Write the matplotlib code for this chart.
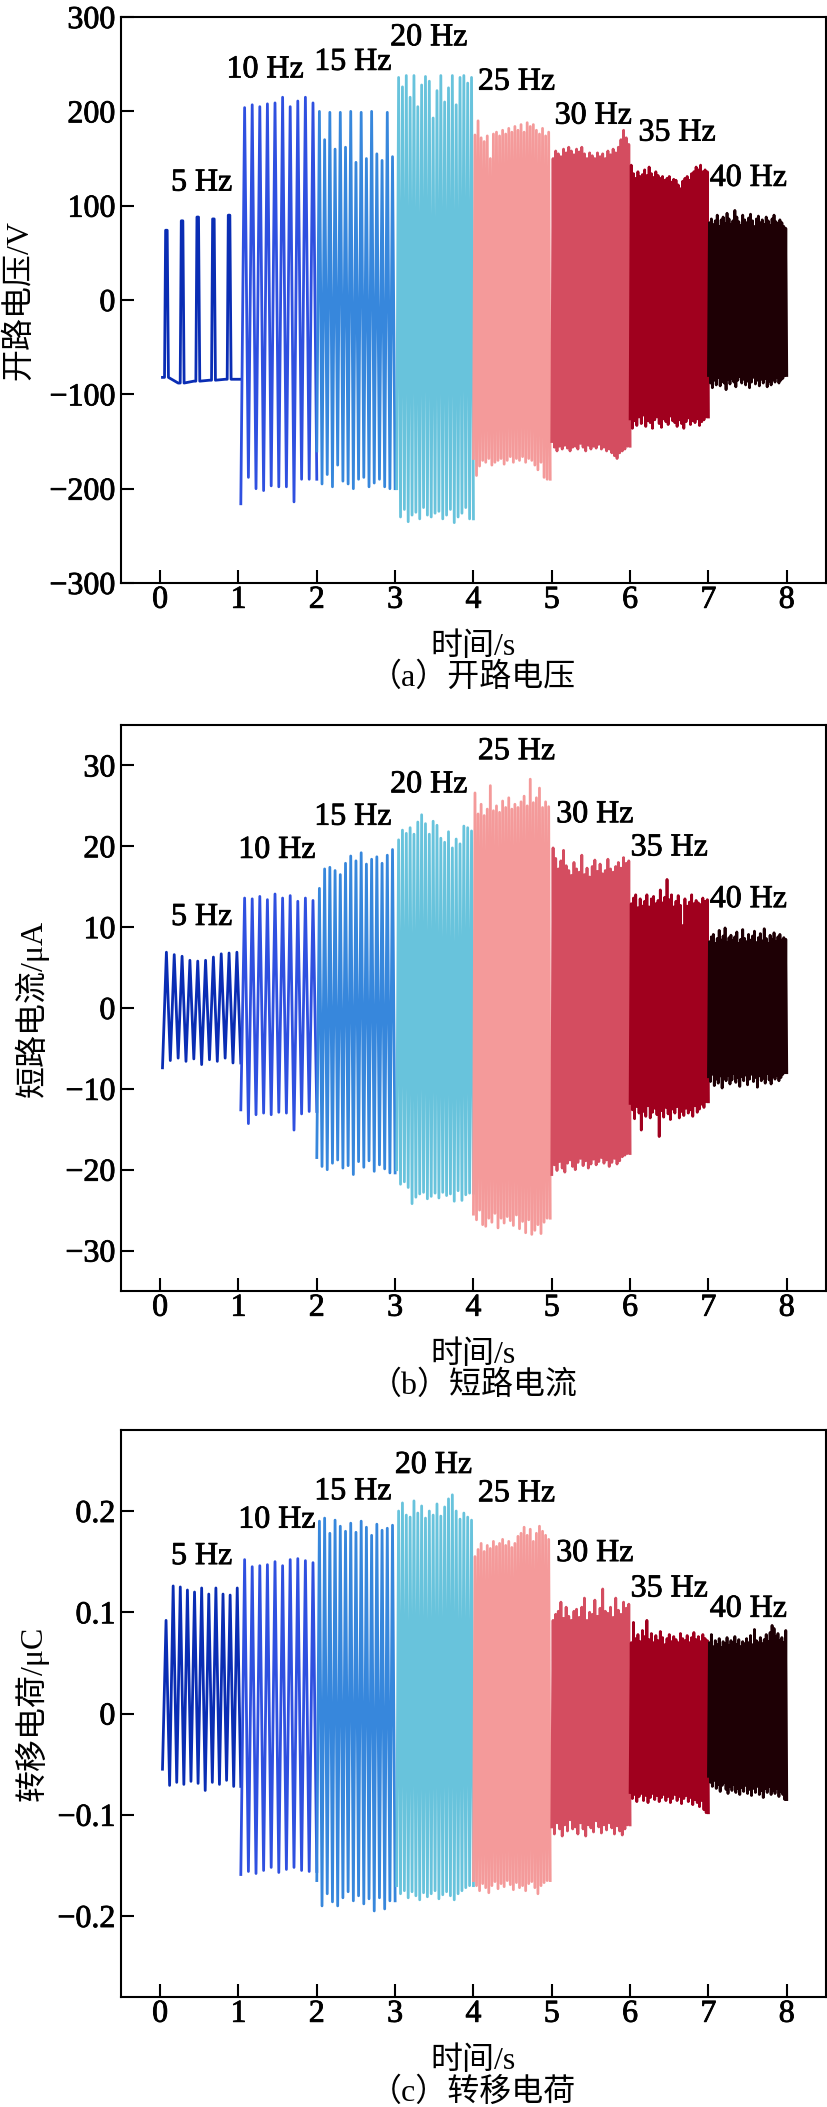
import matplotlib
matplotlib.use("Agg")
import matplotlib.pyplot as plt
import matplotlib.patheffects as pe
from matplotlib.ticker import FuncFormatter

# Fuentes: números en serif tipo Times, caracteres chinos con Noto CJK
plt.rcParams['font.family'] = ['Liberation Serif', 'Noto Sans CJK SC']
plt.rcParams['axes.unicode_minus'] = True

# Segmentos de frecuencia (1 s cada uno)
freq_labels = ['5 Hz', '10 Hz', '15 Hz', '20 Hz', '25 Hz', '30 Hz', '35 Hz', '40 Hz']
seg_colors = ['#0A2DB4', '#2F50E0', '#3787DC', '#68C3DC',
              '#F49A9A', '#D44D60', '#A0001E', '#1E0005']
seg_start = [0.03, 1.03, 2.0, 3.02, 4.0, 5.0, 6.0, 7.0]
seg_end = [1.03, 2.0, 3.0, 4.0, 4.98, 6.0, 7.0, 8.0]
x_ticks = [0, 1, 2, 3, 4, 5, 6, 7, 8]

# (a) Tensión de circuito abierto, V: picos y valles por ciclo
voc_hi = [
    [74, 84, 88, 86, 90],
    [204, 207, 205, 208, 209, 215, 205, 211, 215, 209],
    [200, 170, 199, 160, 199, 162, 200, 146, 199, 150, 200, 155, 148, 199, 152],
    [236, 226, 238, 215, 238, 205, 228, 237, 232, 193, 222, 238, 210, 225, 238, 207, 236, 238, 230, 236],
    [175, 190, 172, 168, 174, 150, 176, 178, 174, 180, 176, 182, 178, 184, 180, 186, 178, 188, 184, 186,
     180, 176, 182, 174, 178],
    [150, 158, 155, 152, 160, 156, 162, 158, 154, 160, 157, 162, 155, 150, 156, 153, 150, 156, 152, 155,
     150, 158, 154, 160, 156, 162, 170, 180, 172, 165],
    [143, 134, 129, 136, 131, 133, 138, 132, 141, 134, 130, 136, 132, 129, 131, 127, 129, 131, 125, 128,
     127, 122, 118, 126, 129, 131, 127, 134, 136, 141, 138, 143, 136, 138, 136],
    [82, 86, 80, 84, 90, 78, 85, 88, 81, 92, 86, 80, 84, 95, 88, 83, 79, 90, 85, 82,
     87, 91, 84, 78, 86, 89, 82, 85, 80, 88, 84, 79, 86, 90, 83, 81, 85, 82, 78, 76],
]
voc_lo = [
    [-82, -88, -86, -85, -84],
    [-216, -188, -200, -202, -197, -198, -198, -214, -190, -190],
    [-160, -195, -185, -198, -175, -192, -195, -200, -190, -188, -198, -194, -190, -198, -200],
    [-200, -230, -222, -235, -228, -225, -232, -220, -228, -230, -226, -224, -232, -228, -222, -236,
     -230, -226, -220, -232],
    [-168, -186, -176, -170, -172, -168, -175, -172, -170, -168, -174, -170, -166, -172, -168, -170,
     -166, -172, -168, -170, -175, -180, -172, -188, -190],
    [-150, -156, -160, -155, -158, -154, -157, -160, -156, -155, -158, -152, -156, -160, -154, -158,
     -155, -157, -153, -158, -156, -160, -158, -162, -165, -168, -162, -160, -158, -155],
    [-126, -136, -128, -133, -124, -131, -122, -134, -128, -130, -136, -127, -124, -131, -135, -126,
     -129, -132, -123, -128, -130, -134, -127, -131, -136, -129, -125, -132, -128, -130, -126, -133,
     -129, -127, -124],
    [-80, -88, -93, -85, -90, -82, -91, -86, -88, -95, -84, -89, -83, -87, -92, -85, -81, -88, -84, -90,
     -86, -93, -87, -82, -89, -85, -91, -84, -88, -83, -92, -86, -90, -84, -87, -82, -88, -85, -83, -80],
]

# (b) Corriente de cortocircuito, uA
isc_hi = [
    [6.9, 6.6, 6.4, 5.9, 5.8, 5.9, 6.3, 6.7, 6.8, 6.9],
    [13.6, 13.5, 13.8, 13.4, 14.1, 13.6, 13.9, 13.2, 13.6, 13.3],
    [14.8, 17.2, 17.4, 17.0, 16.5, 17.9, 18.8, 18.2, 19.2, 17.8, 18.4, 18.7, 17.9, 18.9, 19.6],
    [20.8, 22.0, 21.6, 22.3, 21.5, 23.0, 23.9, 22.8, 21.5, 23.1, 22.6, 21.0, 20.5, 21.8, 19.8, 20.9,
     20.3, 22.5, 22.3, 21.9],
    [26.6, 24.0, 25.2, 23.8, 24.6, 27.5, 24.4, 25.0, 24.2, 25.6, 24.8, 26.0, 24.6, 25.2, 24.8, 25.5,
     26.2, 25.0, 28.3, 25.4, 26.0, 27.2, 24.8, 25.5, 24.9],
    [19.8, 18.5, 17.2, 18.2, 19.5, 17.6, 17.0, 16.4, 18.0, 17.2, 16.8, 18.9, 16.5, 17.3, 16.2, 17.5,
     18.3, 16.9, 17.8, 16.6, 17.0, 18.4, 17.2, 16.8, 17.5, 18.0, 17.3, 18.6, 17.9, 18.2],
    [12.9, 13.6, 14.0, 12.4, 13.5, 12.6, 13.2, 14.0, 12.5, 13.5, 13.8, 12.9, 13.3, 14.6, 13.0, 13.7,
     15.9, 13.4, 14.0, 12.5, 13.2, 13.9, 12.7, 10.2, 13.5, 12.6, 13.1, 14.0, 12.9, 13.3, 13.0, 12.8,
     13.6, 13.2, 13.4],
    [8.2, 8.8, 9.1, 8.0, 8.6, 9.6, 8.4, 8.9, 9.9, 8.1, 8.7, 9.0, 8.3, 8.8, 9.4, 8.0, 8.5, 9.7, 8.6, 8.2,
     9.1, 8.4, 8.9, 9.5, 8.1, 8.7, 9.2, 8.3, 9.8, 8.6, 8.0, 9.0, 8.5, 9.3, 8.2, 8.8, 9.1, 8.4, 8.7, 8.5],
]
isc_lo = [
    [-7.4, -6.5, -6.2, -6.6, -6.3, -7.0, -6.4, -6.6, -6.2, -6.8],
    [-12.6, -14.3, -13.2, -13.0, -13.2, -12.9, -13.0, -15.1, -13.1, -12.8],
    [-18.5, -19.6, -20.0, -19.2, -18.8, -19.8, -19.5, -20.6, -19.0, -19.7, -18.9, -20.2, -19.4, -19.9, -20.4],
    [-20.0, -21.8, -21.5, -22.2, -24.2, -23.4, -23.0, -22.8, -23.6, -23.3, -22.9, -23.5, -22.8, -23.2,
     -23.0, -23.9, -22.6, -23.8, -23.1, -22.9],
    [-25.5, -26.2, -25.0, -26.8, -27.0, -26.0, -26.5, -25.4, -27.2, -26.0, -26.6, -25.8, -26.3, -26.9,
     -25.6, -27.3, -26.4, -27.8, -26.2, -28.0, -27.5, -26.8, -27.9, -26.5, -26.0],
    [-20.6, -19.4, -20.1, -19.0, -19.8, -20.3, -19.2, -18.8, -19.6, -20.0, -19.1, -18.6, -19.5, -18.9,
     -19.8, -19.3, -18.7, -19.4, -19.0, -18.5, -19.2, -18.8, -19.6, -19.1, -18.6, -19.3, -18.9, -18.4,
     -18.2, -18.0],
    [-11.8, -12.6, -13.7, -12.2, -13.0, -15.1, -12.8, -13.4, -12.1, -13.6, -12.9, -12.4, -13.2, -15.9,
     -12.7, -13.5, -12.3, -13.1, -13.8, -12.5, -13.0, -12.2, -13.6, -12.8, -13.3, -12.4, -13.0, -12.6,
     -13.4, -12.1, -12.9, -12.5, -11.9, -12.3, -11.6],
    [-8.5, -9.1, -8.2, -9.6, -8.8, -9.3, -8.4, -9.9, -8.7, -9.0, -8.3, -9.4, -8.9, -8.1, -9.2, -8.6,
     -9.7, -8.5, -9.0, -8.3, -9.5, -8.8, -8.2, -9.1, -8.6, -9.8, -8.4, -9.0, -8.7, -9.3, -8.1, -8.9,
     -9.4, -8.5, -8.8, -8.3, -9.0, -8.6, -8.2, -8.0],
]

# (c) Carga transferida, uC
qsc_hi = [
    [0.092, 0.126, 0.125, 0.122, 0.120, 0.124, 0.118, 0.124, 0.118, 0.117, 0.124],
    [0.152, 0.145, 0.146, 0.147, 0.150, 0.146, 0.152, 0.153, 0.151, 0.149],
    [0.190, 0.193, 0.178, 0.191, 0.185, 0.180, 0.188, 0.179, 0.190, 0.184, 0.176, 0.187, 0.181, 0.183, 0.186],
    [0.200, 0.208, 0.196, 0.194, 0.210, 0.198, 0.205, 0.193, 0.200, 0.196, 0.207, 0.195, 0.204, 0.212,
     0.216, 0.200, 0.192, 0.198, 0.194, 0.191],
    [0.155, 0.162, 0.168, 0.160, 0.166, 0.163, 0.170, 0.165, 0.168, 0.172, 0.166, 0.170, 0.164, 0.168,
     0.175, 0.178, 0.184, 0.176, 0.182, 0.170, 0.178, 0.185, 0.180, 0.176, 0.172],
    [0.092, 0.098, 0.101, 0.110, 0.094, 0.105, 0.096, 0.092, 0.101, 0.103, 0.095, 0.105, 0.114, 0.092,
     0.100, 0.098, 0.112, 0.096, 0.104, 0.123, 0.101, 0.099, 0.105, 0.095, 0.114, 0.102, 0.098, 0.110,
     0.104, 0.108],
    [0.070, 0.090, 0.074, 0.078, 0.071, 0.082, 0.076, 0.092, 0.073, 0.079, 0.070, 0.077, 0.072, 0.081,
     0.075, 0.068, 0.074, 0.078, 0.071, 0.076, 0.073, 0.070, 0.079, 0.074, 0.072, 0.077, 0.070, 0.075,
     0.080, 0.073, 0.076, 0.071, 0.078, 0.074, 0.072],
    [0.070, 0.078, 0.066, 0.072, 0.068, 0.074, 0.065, 0.071, 0.069, 0.075, 0.067, 0.072, 0.070, 0.076,
     0.068, 0.073, 0.066, 0.071, 0.069, 0.074, 0.070, 0.077, 0.068, 0.083, 0.072, 0.070, 0.075, 0.069,
     0.073, 0.078, 0.071, 0.080, 0.087, 0.084, 0.076, 0.079, 0.072, 0.075, 0.070, 0.082],
]
qsc_lo = [
    [-0.055, -0.071, -0.068, -0.070, -0.067, -0.069, -0.076, -0.068, -0.070, -0.066, -0.072],
    [-0.159, -0.156, -0.158, -0.155, -0.152, -0.157, -0.154, -0.152, -0.155, -0.156],
    [-0.165, -0.190, -0.178, -0.186, -0.190, -0.182, -0.176, -0.185, -0.180, -0.188, -0.183, -0.195,
     -0.182, -0.193, -0.185],
    [-0.170, -0.178, -0.175, -0.182, -0.176, -0.180, -0.184, -0.177, -0.181, -0.178, -0.175, -0.183,
     -0.179, -0.176, -0.180, -0.184, -0.178, -0.175, -0.172, -0.170],
    [-0.165, -0.170, -0.175, -0.168, -0.172, -0.177, -0.170, -0.166, -0.173, -0.168, -0.171, -0.165,
     -0.169, -0.174, -0.167, -0.172, -0.170, -0.175, -0.168, -0.166, -0.172, -0.178, -0.170, -0.167, -0.165],
    [-0.112, -0.119, -0.108, -0.114, -0.121, -0.110, -0.116, -0.105, -0.114, -0.112, -0.119, -0.108,
     -0.114, -0.121, -0.110, -0.113, -0.117, -0.106, -0.112, -0.118, -0.110, -0.115, -0.108, -0.113,
     -0.119, -0.111, -0.116, -0.120, -0.114, -0.110],
    [-0.078, -0.084, -0.080, -0.087, -0.082, -0.079, -0.086, -0.081, -0.088, -0.083, -0.079, -0.085,
     -0.081, -0.087, -0.083, -0.080, -0.086, -0.082, -0.088, -0.084, -0.080, -0.086, -0.082, -0.089,
     -0.084, -0.081, -0.087, -0.083, -0.090, -0.085, -0.088, -0.092, -0.086, -0.095, -0.098],
    [-0.062, -0.068, -0.072, -0.066, -0.074, -0.070, -0.077, -0.071, -0.068, -0.075, -0.079, -0.072,
     -0.076, -0.070, -0.078, -0.074, -0.080, -0.073, -0.077, -0.071, -0.079, -0.075, -0.081, -0.074,
     -0.078, -0.072, -0.080, -0.076, -0.083, -0.074, -0.078, -0.072, -0.080, -0.076, -0.079, -0.074,
     -0.082, -0.077, -0.080, -0.085],
]

# Posición de las etiquetas de frecuencia (coordenadas de datos)
voc_label_pos = [(0.53, 124), (1.34, 244), (2.46, 252), (3.43, 278),
                 (4.55, 231), (5.53, 195), (6.6, 177), (7.51, 129)]
isc_label_pos = [(0.53, 11.2), (1.49, 19.5), (2.46, 23.6), (3.43, 27.6),
                 (4.55, 31.7), (5.55, 23.9), (6.5, 19.8), (7.51, 13.4)]
qsc_label_pos = [(0.53, 0.155), (1.49, 0.191), (2.46, 0.219), (3.49, 0.245),
                 (4.55, 0.217), (5.55, 0.158), (6.5, 0.123), (7.51, 0.103)]

FS = 23
# Trazo fino alrededor del texto latino para imitar el grosor del original
heavy = [pe.withStroke(linewidth=0.6, foreground='black')]


# Construye la traza de un segmento a partir de los picos/valles leídos
def segment_trace(t0, t1, hi, lo, pulse=False):
    n = len(hi)
    T = (t1 - t0) / n
    t, y = [], []
    for k in range(n):
        tk = t0 + k * T
        if pulse:
            t += [tk, tk + 0.13 * T, tk + 0.2 * T, tk + 0.3 * T, tk + 0.38 * T]
            y += [lo[k], lo[k], hi[k], hi[k], lo[k]]
        else:
            t += [tk, tk + 0.5 * T]
            y += [lo[k], hi[k]]
    t.append(t1)
    y.append(lo[-1])
    return t, y


def minus_fmt(v, pos):
    return f"{v:g}".replace('-', '\u2212')


panels = [
    (voc_hi, voc_lo, voc_label_pos, (-300, 300), [-300, -200, -100, 0, 100, 200, 300],
     '开路电压/V', '（a）开路电压', 0.7233, 0.2686, -0.145, True),
    (isc_hi, isc_lo, isc_label_pos, (-35, 35), [-30, -20, -10, 0, 10, 20, 30],
     '短路电流/μA', '（b）短路电流', 0.3873, 0.2686, -0.126, False),
    (qsc_hi, qsc_lo, qsc_label_pos, (-0.28, 0.28), [-0.2, -0.1, 0, 0.1, 0.2],
     '转移电荷/μC', '（c）转移电荷', 0.0522, 0.2691, -0.126, False),
]

fig = plt.figure(figsize=(8.28, 21.07), dpi=100)

for hi_all, lo_all, lab_pos, ylim, yticks, ylabel, caption, bottom, height, ylab_x, first_pulse in panels:
    ax = fig.add_axes([0.1461, bottom, 0.8514, height])

    for i in range(len(freq_labels)):
        t, y = segment_trace(seg_start[i], seg_end[i], hi_all[i], lo_all[i],
                             pulse=(first_pulse and i == 0))
        ax.plot(t, y, color=seg_colors[i], lw=2.0)
        ax.text(lab_pos[i][0], lab_pos[i][1], freq_labels[i], fontsize=FS,
                ha='center', va='center', path_effects=heavy)

    ax.set_xlim(-0.5, 8.5)
    ax.set_ylim(*ylim)
    ax.set_xticks(x_ticks)
    ax.set_yticks(yticks)
    ax.yaxis.set_major_formatter(FuncFormatter(minus_fmt))

    for sp in ax.spines.values():
        sp.set_linewidth(1.5)
    ax.tick_params(direction='in', length=9.5, width=1.5, labelsize=FS,
                   top=False, right=False)
    ax.tick_params(axis='x', pad=2)
    ax.tick_params(axis='y', pad=4)
    for lab in ax.get_xticklabels() + ax.get_yticklabels():
        lab.set_path_effects(heavy)

    ax.set_ylabel(ylabel, fontsize=FS, va='center')
    ax.yaxis.set_label_coords(ylab_x, 0.5)

    # Etiqueta del eje x y pie de figura bajo cada panel
    ax.text(0.5, -0.113, '时间/s', transform=ax.transAxes, fontsize=FS,
            ha='center', va='center')
    ax.text(0.5, -0.168, caption, transform=ax.transAxes, fontsize=FS,
            ha='center', va='center')

fig.savefig('out.png', dpi=100)
